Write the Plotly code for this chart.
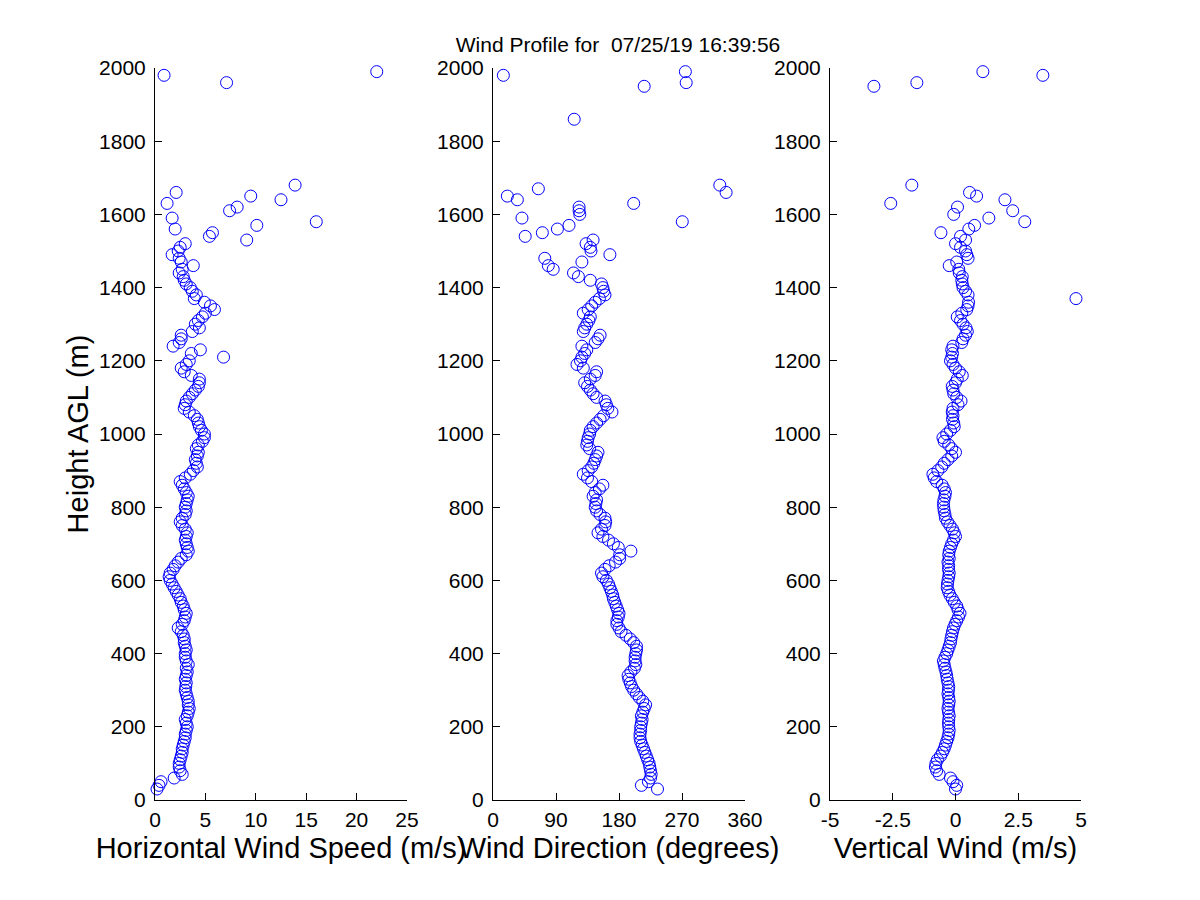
import plotly.graph_objects as go

# range gates (m AGL)
heights = [
    30, 40, 50, 60, 70, 80, 90, 100, 110, 120,
    130, 140, 150, 160, 170, 180, 190, 200, 210, 220,
    230, 240, 250, 260, 270, 280, 290, 300, 310, 320,
    330, 340, 350, 360, 370, 380, 390, 400, 410, 420,
    430, 440, 450, 460, 470, 480, 490, 500, 510, 520,
    530, 540, 550, 560, 570, 580, 590, 600, 610, 620,
    630, 640, 650, 660, 670, 680, 690, 700, 710, 720,
    730, 740, 750, 760, 770, 780, 790, 800, 810, 820,
    830, 840, 850, 860, 870, 880, 890, 900, 910, 920,
    930, 940, 950, 960, 970, 980, 990, 1000, 1010, 1020,
    1030, 1040, 1050, 1060, 1070, 1080, 1090, 1100, 1110, 1120,
    1130, 1140, 1150, 1160, 1170, 1180, 1190, 1200, 1210, 1220,
    1230, 1240, 1250, 1260, 1270, 1280, 1290, 1300, 1310, 1320,
    1330, 1340, 1350, 1360, 1370, 1380, 1390, 1400, 1410, 1420,
    1430, 1440, 1450, 1460, 1470, 1480, 1490, 1500, 1510, 1520,
    1530, 1540, 1550, 1560, 1570, 1580, 1590, 1600, 1610, 1620,
    1630, 1640, 1650, 1660, 1670, 1680, 1860, 1950, 1960, 1980, 1990,
]

# horizontal wind speed (m/s), None = no retrieval
speed = [
    0.2, 0.4, 0.6, 1.9, 2.7, 2.5, 2.4, 2.4, 2.5, 2.6,
    2.7, 2.7, 2.8, 2.9, 3.0, 3.0, 3.1, 3.2, 3.1, 3.0,
    3.2, 3.3, 3.4, 3.3, 3.3, 3.2, 3.1, 3.0, 3.05, 3.1,
    3.0, 3.1, 3.2, 3.1, 3.3, 3.1, 3.0, 3.0, 3.1, 3.0,
    2.9, 2.9, 2.8, 2.6, 2.3, 2.7, 2.9, 3.0, 3.1, 2.9,
    2.8, 2.6, 2.5, 2.3, 2.1, 1.9, 1.7, 1.5, 1.4, 1.5,
    1.8, 2.0, 2.3, 2.6, 3.1, 3.3, 3.2, 3.1, 3.0, 3.1,
    3.2, 3.0, 2.7, 2.5, 2.7, 3.0, 3.1, 3.0, 3.1, 3.2,
    3.3, 3.1, 2.9, 2.7, 2.5, 3.0, 3.5, 3.8, 4.2, 4.1,
    4.0, 4.2, 4.3, 4.1, 4.3, 4.7, 4.9, 4.9, 4.6, 4.4,
    4.3, 4.2, 3.9, 3.4, 2.9, 3.0, 3.1, 3.4, 3.7, 4.0,
    4.3, 4.4, 4.4, 3.6, 2.9, 2.6, 3.1, 3.4, 6.8, 3.6,
    4.5, 1.8, 2.4, 2.6, 2.6, 3.7, 4.4, 4.0, 4.3, 4.7,
    5.0, 5.9, 5.5, 4.9, 3.9, 4.1, 3.7, 3.5, 3.1, 2.9,
    2.8, 2.4, 2.7, 3.8, 2.6, 2.4, 1.7, 2.3, 2.5, 3.0,
    9.1, 5.4, 5.7, 2.0, 10.1, 16.0, 1.7, None, 7.4, 8.15,
    1.2, 12.5, 9.5, 2.1, None, 13.9, None, None, 7.1, 0.9, 22.0,
]

# wind direction (degrees)
direction = [
    235, 212, 222, 225, 226, 225, 224, 223, 221, 219,
    217, 215, 213, 211, 210, 210, 211, 211, 212, 213,
    212, 214, 216, 218, 214, 209, 205, 201, 198, 196,
    194, 193, 197, 202, 204, 203, 203, 204, 205, 205,
    201, 196, 190, 183, 180, 177, 177, 179, 180, 178,
    176, 174, 172, 171, 169, 167, 165, 162, 157, 155,
    160, 166, 175, 181, 181, 197, 179, 172, 165, 157,
    150, 155, 160, 161, 160, 153, 148, 146, 147, 148,
    143, 146, 152, 157, 141, 135, 129, 136, 141, 144,
    146, 148, 150, 138, 134, 135, 136, 138, 139, 143,
    148, 153, 158, 170, 164, 162, 160, 148, 143, 139,
    135, 131, 139, 146, 148, 129, 120, 125, 127, 131,
    134, 127, 146, 150, 153, 129, 131, 134, 137, 139,
    129, 136, 141, 146, 152, 160, 158, 157, 155, 139,
    122, 115, 86, 79, 127, 74, 167, 140, 139, 133,
    143, 46, 70.5, 92, 108.6, 270.4, 41.4, 124, 123, 123,
    201, 34.8, 20.5, 333, 64.8, 324, 116, 216, 276, 14.8, 274.8,
]

# vertical wind (m/s)
vertical = [
    0.0, 0.05, -0.1, -0.2, -0.65, -0.75, -0.8, -0.78, -0.72, -0.6,
    -0.52, -0.45, -0.4, -0.35, -0.3, -0.27, -0.25, -0.27, -0.28, -0.27,
    -0.25, -0.28, -0.3, -0.27, -0.25, -0.27, -0.3, -0.28, -0.27, -0.3,
    -0.33, -0.35, -0.38, -0.42, -0.45, -0.48, -0.42, -0.35, -0.3, -0.25,
    -0.2, -0.18, -0.15, -0.12, -0.08, -0.02, 0.05, 0.12, 0.18, 0.1,
    0.05, -0.05, -0.13, -0.22, -0.28, -0.33, -0.32, -0.3, -0.27, -0.25,
    -0.28, -0.27, -0.3, -0.25, -0.27, -0.25, -0.2, -0.15, -0.08, 0.0,
    -0.05, -0.12, -0.22, -0.32, -0.4, -0.42, -0.45, -0.47, -0.48, -0.46,
    -0.42, -0.4, -0.45, -0.53, -0.75, -0.85, -0.9, -0.7, -0.55, -0.45,
    -0.3, -0.15, 0.0, -0.15, -0.27, -0.45, -0.5, -0.35, -0.2, -0.05,
    -0.07, -0.12, -0.1, -0.13, -0.1, 0.1, 0.22, 0.05, -0.07, -0.1,
    -0.13, 0.0, 0.07, 0.27, 0.15, 0.0, -0.1, -0.2, -0.15, -0.12,
    -0.15, -0.1, 0.25, 0.3, 0.4, 0.47, 0.42, 0.3, 0.2, 0.07,
    0.25, 0.45, 0.5, 0.52, 4.8, 0.5, 0.4, 0.3, 0.27, 0.25,
    0.27, 0.15, 0.13, -0.25, 0.05, 0.5, 0.45, 0.4, 0.2, 0.0,
    0.4, 0.2, -0.58, 0.53, 0.76, 2.76, 1.33, -0.07, 2.28, 0.08,
    -2.58, 1.97, 0.84, 0.56, None, -1.74, None, -3.25, -1.54, 3.48, 1.09,
]

panels = [
    (speed, "Horizontal Wind Speed (m/s)", [0, 25], [0, 5, 10, 15, 20, 25], None),
    (direction, "Wind Direction (degrees)", [0, 360], [0, 90, 180, 270, 360], None),
    (vertical, "Vertical Wind (m/s)", [-5, 5], [-5, -2.5, 0, 2.5, 5], ["-5", "-2.5", "0", "2.5", "5"]),
]

# axes placement in screen pixels, MATLAB subplot(1,3,k) style
W, H = 1200, 900
OFF = 8  # page body margin
x_px = [(155, 407), (493, 745), (830, 1081)]
y_top, y_bot = 68, 800

FONT = "Liberation Sans, Arial, Helvetica, sans-serif"

fig = go.Figure()
layout = dict(
    width=W, height=H,
    margin=dict(l=0, r=0, t=0, b=0, autoexpand=False),
    paper_bgcolor="white", plot_bgcolor="white",
    showlegend=False,
    font=dict(family=FONT, size=21, color="black"),
    title=dict(text="Wind Profile for  07/25/19 16:39:56", x=(618 - OFF) / W, xanchor="center",
               y=1 - (45 - OFF) / H, yanchor="middle", font=dict(size=21)),
)

for i, (vals, label, rng, tv, tt) in enumerate(panels):
    n = "" if i == 0 else str(i + 1)
    fig.add_trace(go.Scatter(
        x=vals, y=heights, mode="markers",
        xaxis="x" + n, yaxis="y" + n, cliponaxis=False,
        marker=dict(symbol="circle-open", size=12, color="#0000ff", line=dict(width=1, color="#0000ff")),
    ))
    common = dict(showline=True, linecolor="black", linewidth=1, showgrid=False, zeroline=False,
                  ticks="inside", ticklen=7, tickcolor="black", tickwidth=1, automargin=False)
    layout["xaxis" + n] = dict(
        domain=[(x_px[i][0] - OFF) / W, (x_px[i][1] - OFF) / W], range=rng, tickvals=tv, ticktext=tt,
        anchor="y" + n, ticklabelstandoff=1,
        title=dict(text=label, font=dict(size=29), standoff=7), **common)
    layout["yaxis" + n] = dict(
        domain=[1 - (y_bot - OFF) / H, 1 - (y_top - OFF) / H], range=[0, 2000], dtick=200,
        anchor="x" + n, ticklabelstandoff=4,
        title=dict(text="Height AGL (m)" if i == 0 else "", font=dict(size=29), standoff=1), **common)

fig.update_layout(**layout)
fig.write_html("out.html")
